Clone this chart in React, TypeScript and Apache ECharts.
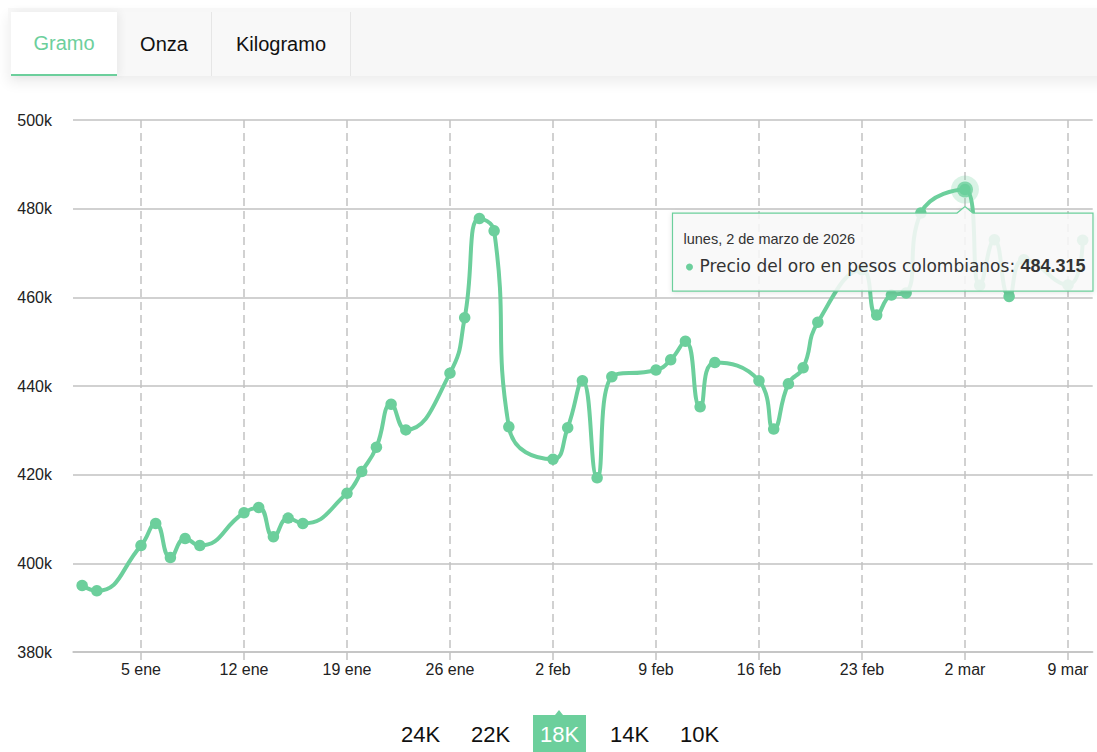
import React, { useEffect, useRef } from "react";
import * as echarts from "echarts";

const GREEN = "#6ccf9c";

const tabs = ["Gramo", "Onza", "Kilogramo"];
const activeTab = "Gramo";
const purities = ["24K", "22K", "18K", "14K", "10K"];
const activePurity = "18K";
const seriesName = "Precio del oro en pesos colombianos";

const dates = [
  "2026-01-01", "2026-01-02",
  "2026-01-05", "2026-01-06", "2026-01-07", "2026-01-08", "2026-01-09",
  "2026-01-12", "2026-01-13", "2026-01-14", "2026-01-15", "2026-01-16",
  "2026-01-19", "2026-01-20", "2026-01-21", "2026-01-22", "2026-01-23",
  "2026-01-26", "2026-01-27", "2026-01-28", "2026-01-29", "2026-01-30",
  "2026-02-02", "2026-02-03", "2026-02-04", "2026-02-05", "2026-02-06",
  "2026-02-09", "2026-02-10", "2026-02-11", "2026-02-12", "2026-02-13",
  "2026-02-16", "2026-02-17", "2026-02-18", "2026-02-19", "2026-02-20",
  "2026-02-23", "2026-02-24", "2026-02-25", "2026-02-26", "2026-02-27",
  "2026-03-02", "2026-03-03", "2026-03-04", "2026-03-05", "2026-03-06",
  "2026-03-09", "2026-03-10",
];

const prices = [
  395000, 393800,
  404000, 409000, 401300, 405600, 404000,
  411400, 412600, 406000, 410200, 409000,
  415800, 420700, 426200, 435900, 430100,
  442900, 455400, 477800, 475000, 430800,
  423500, 430600, 441200, 419300, 442100,
  443600, 445900, 450100, 435300, 445300,
  441200, 430300, 440500, 444100, 454400,
  466200, 456000, 460500, 461000, 479000,
  484315, 462700, 473000, 460200, 468500,
  462800, 472900,
];

const tickDates = [
  "2026-01-05", "2026-01-12", "2026-01-19", "2026-01-26", "2026-02-02",
  "2026-02-09", "2026-02-16", "2026-02-23", "2026-03-02", "2026-03-09",
];

const yMin = 380000;
const yMax = 500000;
const yInterval = 20000;

const highlightDate = "2026-03-02";

const monthsShort = ["ene", "feb", "mar", "abr", "may", "jun", "jul", "ago", "sep", "oct", "nov", "dic"];
const monthsLong = ["enero", "febrero", "marzo", "abril", "mayo", "junio", "julio", "agosto", "septiembre", "octubre", "noviembre", "diciembre"];
const weekdays = ["domingo", "lunes", "martes", "miércoles", "jueves", "viernes", "sábado"];

const DAY = 86400000;
const toTs = (s: string) => {
  const [y, m, d] = s.split("-").map(Number);
  return Date.UTC(y, m - 1, d);
};
const fmtThousands = (v: number) => String(Math.round(v)).replace(/\B(?=(\d{3})+(?!\d))/g, ".");

export default function App() {
  const ref = useRef<HTMLDivElement>(null);

  useEffect(() => {
    const el = ref.current!;
    const chart = echarts.init(el, null, { renderer: "svg" });
    const xs = dates.map(toTs);
    const data = xs.map((x, i) => [x, prices[i]]);
    const hi = dates.indexOf(highlightDate);
    const ticks = tickDates.map(toTs);
    const font = "Liberation Sans, Arial, sans-serif";
    const gridColor = "#c2c2c2";

    chart.setOption({
      animation: false,
      backgroundColor: "#ffffff",
      grid: { left: 73, right: 4.3, top: 120, bottom: 100, containLabel: false, outerBoundsMode: "none" },
      xAxis: {
        type: "value",
        min: xs[0] - 0.62 * DAY,
        max: xs[xs.length - 1] + 0.68 * DAY,
        axisLine: { show: true, lineStyle: { color: gridColor, width: 1.5 } },
        axisTick: { show: true, customValues: ticks, length: 8, lineStyle: { color: gridColor, width: 1.5 } },
        axisLabel: {
          customValues: ticks,
          color: "#222",
          fontSize: 16,
          fontFamily: font,
          margin: 9,
          formatter: (v: number) => {
            const d = new Date(v);
            return d.getUTCDate() + " " + monthsShort[d.getUTCMonth()];
          },
        },
        splitLine: { show: true, lineStyle: { type: [8, 5], color: gridColor, width: 1.5 } },
      },
      yAxis: {
        type: "value",
        min: yMin,
        max: yMax,
        interval: yInterval,
        axisLine: { show: false },
        axisTick: { show: false },
        axisLabel: {
          color: "#222",
          fontSize: 16,
          fontFamily: font,
          margin: 21,
          formatter: (v: number) => v / 1000 + "k",
        },
        splitLine: { show: true, lineStyle: { color: gridColor, width: 1.5 } },
      },
      series: [
        {
          type: "line",
          name: seriesName,
          data,
          smooth: 0.5,
          symbol: "circle",
          symbolSize: 11.5,
          showAllSymbol: true,
          lineStyle: { color: GREEN, width: 4 },
          itemStyle: { color: GREEN },
          emphasis: { disabled: true },
          silent: true,
          z: 2,
        },
        {
          type: "scatter",
          data: [data[hi]],
          symbolSize: 28,
          itemStyle: { color: GREEN, opacity: 0.25 },
          silent: true,
          z: 3,
        },
        {
          type: "scatter",
          data: [data[hi]],
          symbolSize: 16,
          itemStyle: { color: GREEN },
          silent: true,
          z: 4,
        },
      ],
    });

    const [px, py] = chart.convertToPixel({ gridIndex: 0 }, data[hi]) as number[];
    const L = px - 292.5;
    const R = px + 128;
    const T = py + 23.5;
    const B = py + 101.5;
    const hd = new Date(xs[hi]);
    const dateText =
      weekdays[hd.getUTCDay()] + ", " + hd.getUTCDate() + " de " + monthsLong[hd.getUTCMonth()] + " de " + hd.getUTCFullYear();

    chart.setOption({
      graphic: [
        {
          type: "polygon",
          z: 100,
          silent: true,
          shape: {
            points: [
              [L, T], [px - 8, T], [px, py + 17], [px + 8, T], [R, T], [R, B], [L, B],
            ],
          },
          style: {
            fill: "rgba(249,249,249,0.87)",
            stroke: GREEN,
            lineWidth: 1.2,
            shadowBlur: 5,
            shadowColor: "rgba(0,0,0,0.12)",
            shadowOffsetY: 1,
          },
        },
        {
          type: "text",
          z: 101,
          silent: true,
          x: L + 11,
          y: T + 26,
          style: {
            text: dateText,
            fill: "#333",
            font: "14.5px Liberation Sans, Arial, sans-serif",
            textAlign: "left",
            textVerticalAlign: "middle",
            align: "left",
            verticalAlign: "middle",
          },
        },
        {
          type: "circle",
          z: 101,
          silent: true,
          shape: { cx: L + 17, cy: T + 54, r: 3.5 },
          style: { fill: GREEN },
        },
        {
          type: "text",
          z: 101,
          silent: true,
          x: L + 27,
          y: T + 52.5,
          style: {
            text: "{a|" + seriesName + ": }{b|" + fmtThousands(prices[hi]) + "}",
            textAlign: "left",
            textVerticalAlign: "middle",
            align: "left",
            verticalAlign: "middle",
            rich: {
              a: { fontFamily: "DejaVu Sans", fontSize: 17, fill: "#333" },
              b: { fontFamily: "Liberation Sans", fontSize: 18, fontWeight: "bold", fill: "#333" },
            },
          },
        },
      ],
    });

    return () => chart.dispose();
  }, []);

  const tabLayout: Record<string, { left: number; width: number }> = {
    Gramo: { left: 3, width: 106 },
    Onza: { left: 109, width: 95 },
    Kilogramo: { left: 204, width: 139 },
  };
  const btnLefts = [394, 464, 533, 603, 673];

  return (
    <div
      style={{
        position: "fixed",
        left: 0,
        top: 0,
        width: 1097,
        height: 752,
        overflow: "hidden",
        background: "#fff",
        fontFamily: "Liberation Sans, Arial, sans-serif",
      }}
    >
      <div ref={ref} style={{ position: "absolute", left: 0, top: 0, width: 1097, height: 752 }} />
      <div
        style={{
          position: "absolute",
          left: 8,
          top: 8,
          width: 1100,
          height: 68,
          background: "#f7f7f7",
          boxShadow: "0 7px 12px rgba(0,0,0,0.07)",
        }}
      >
        {tabs.map((t) => {
          const lay = tabLayout[t];
          const active = t === activeTab;
          return (
            <div
              key={t}
              style={{
                position: "absolute",
                left: lay.left,
                top: 4,
                width: lay.width,
                height: 64,
                boxSizing: "border-box",
                background: active ? "#fff" : "#f8f8f8",
                color: active ? GREEN : "#111",
                borderBottom: active ? "2.5px solid " + GREEN : "none",
                borderRight: active ? "none" : "1.5px solid #e6e6e6",
                boxShadow: active ? "3px 0 8px rgba(0,0,0,0.06)" : "none",
                fontSize: 20,
                lineHeight: active ? "62px" : "64px",
                textAlign: "center",
                zIndex: active ? 2 : 1,
              }}
            >
              {t}
            </div>
          );
        })}
      </div>
      {purities.map((p, i) => {
        const active = p === activePurity;
        return (
          <div
            key={p}
            style={{
              position: "absolute",
              left: btnLefts[i],
              top: 715,
              width: 53,
              height: 40,
              lineHeight: "40px",
              textAlign: "center",
              fontSize: 22,
              background: active ? GREEN : "transparent",
              color: active ? "#fff" : "#111",
            }}
          >
            {p}
          </div>
        );
      })}
      <div
        style={{
          position: "absolute",
          left: btnLefts[purities.indexOf(activePurity)] + 26.5 - 4.5,
          top: 710,
          width: 0,
          height: 0,
          borderLeft: "4.5px solid transparent",
          borderRight: "4.5px solid transparent",
          borderBottom: "5px solid " + GREEN,
        }}
      />
    </div>
  );
}
